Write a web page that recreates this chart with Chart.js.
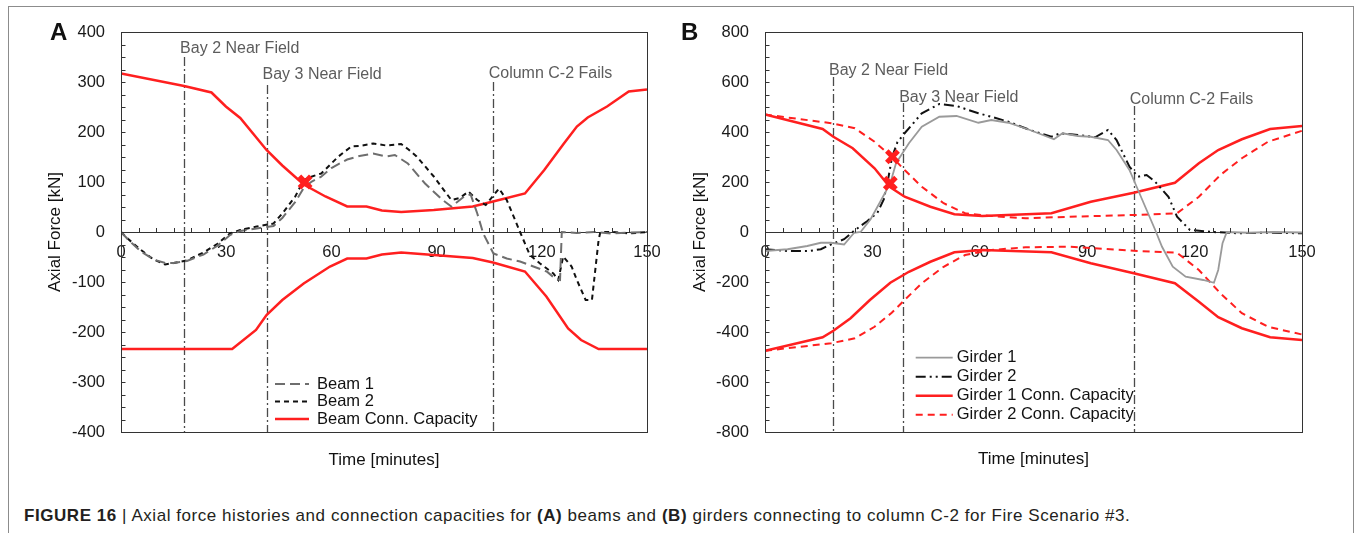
<!DOCTYPE html>
<html><head><meta charset="utf-8">
<script src="https://cdn.jsdelivr.net/npm/chart.js@4/dist/chart.umd.min.js"></script>
<style>
html,body{margin:0;padding:0;background:#fff;}
body{width:1356px;height:533px;overflow:hidden;position:relative;font-family:"Liberation Sans",Arial,sans-serif;}
#frame{position:absolute;left:8px;top:6px;width:1344px;height:600px;border:1px solid #8c8c8c;}
canvas{position:absolute;top:0;}
#cA{left:0px;} #cB{left:678px;}
.tag{position:absolute;font-weight:bold;font-size:24px;line-height:24px;color:#111;}
#caption{position:absolute;left:24px;top:506px;font-size:17px;line-height:19px;letter-spacing:0.55px;color:#231f20;white-space:nowrap;}
</style></head>
<body>
<div id="frame"></div>
<canvas id="cA" width="678" height="480"></canvas>
<canvas id="cB" width="678" height="480"></canvas>
<div class="tag" style="left:50px;top:20px">A</div>
<div class="tag" style="left:681px;top:20px">B</div>
<div id="caption"><b>FIGURE 16</b> | Axial force histories and connection capacities for <b>(A)</b> beams and <b>(B)</b> girders connecting to column C-2 for Fire Scenario #3.</div>
<script>
// ---------- shared ----------
const xTickLabels = [0, 30, 60, 90, 120, 150];
const eventNames = ['Bay 2 Near Field', 'Bay 3 Near Field', 'Column C-2 Fails'];

// ---------- Panel A: beams ----------
const yTickLabelsA = [-400, -300, -200, -100, 0, 100, 200, 300, 400];
const eventTimesA = [18, 41.5, 106];
const beam1Time  = [0, 2, 5.5, 9.3, 12.6, 15, 18.8, 23.5, 27.4, 31.1, 34, 38.7, 43.5, 46, 49.7, 52.1, 54.4, 57, 60, 64.5, 68, 71.9, 75.6, 78.1, 81.8, 86.7, 91.7, 94.2, 97.9, 99.7, 101.6, 103.3, 106.2, 110, 113.8, 117.6, 121.4, 123.8, 125.2, 125.7, 130, 135, 140, 145, 150];
const beam1Force = [0, -15, -38, -55, -62, -62, -58, -45, -28, -6, 2, 7, 12, 28, 60, 88, 101, 110, 128, 145, 152, 157, 151, 154, 137, 97, 64, 51, 71, 75, 37, -3, -43, -53, -59, -69, -79, -93, -96, 0, -2, 0, -3, -1, 0];
const beam2Time  = [0, 1.7, 5.5, 9.3, 12.6, 15, 18.8, 23.5, 27.4, 31.1, 34, 38.7, 43.5, 46, 49.7, 52.1, 54, 57.1, 62, 65.7, 68, 71.9, 75.6, 79.9, 82, 84.3, 89.2, 94.2, 96.6, 99.1, 101.6, 104, 107.8, 110, 113.8, 116.6, 119.5, 123.3, 124.7, 126.1, 128.5, 130, 132.5, 134.3, 136.2, 136.7, 140, 145, 150];
const beam2Force = [0, -12, -35, -55, -65, -62, -57, -41, -24, -3, 4, 11, 17, 37, 71, 104, 110, 117, 151, 171, 172, 177, 173, 176, 165, 151, 111, 64, 68, 81, 64, 54, 87, 64, 0, -46, -63, -83, -96, -49, -69, -96, -136, -136, -16, 0, 0, -3, 0];
const beamCapTimeUpper = [0, 18, 25.8, 29.9, 34, 41.5, 46, 52.1, 58.3, 64.5, 70, 74.4, 79.9, 89.2, 100.3, 106.1, 115.2, 120.7, 126.3, 130, 133.1, 138.6, 144.8, 150];
const beamCapUpper     = [317, 292, 279, 251, 228, 164, 133, 95, 71, 51, 51, 43, 40, 44, 51, 61, 77, 124, 177, 211, 229, 251, 281, 285];
const beamCapTimeLower = [0, 31.7, 38.5, 41.5, 46, 52.1, 59.6, 64.5, 70, 74.4, 79.9, 89.2, 100.3, 106.1, 115.2, 121.3, 127.5, 131.2, 136.2, 150];
const beamCapLower     = [-234, -234, -196, -166, -136, -103, -69, -53, -53, -45, -41, -46, -52, -61, -79, -129, -193, -216, -234, -234];
const beamFailTime  = [52.5];
const beamFailForce = [100];

// ---------- Panel B: girders ----------
const yTickLabelsB = [-800, -600, -400, -200, 0, 200, 400, 600, 800];
const eventTimesB = [19, 38.6, 103];
const girder1Time  = [0, 6.3, 11.8, 15.6, 18.4, 22.1, 24.9, 26.7, 29.5, 32.3, 35, 36.6, 40.2, 43.8, 48.7, 53.5, 59.6, 63.2, 68, 74, 80.7, 83.1, 87.4, 91, 95.8, 98.2, 101.8, 104.2, 106.6, 109, 110.9, 113.9, 117.5, 122.4, 125.4, 126.6, 127.8, 129, 135, 142, 150];
const girder1Force = [-76, -69, -56, -43, -43, -50, -3, 0, 51, 124, 195, 275, 355, 421, 461, 464, 437, 448, 437, 408, 371, 395, 384, 381, 368, 328, 248, 168, 88, 8, -59, -139, -179, -192, -203, -152, -45, 0, -3, 0, -2];
const girder2Time  = [0, 6.3, 12.4, 15.6, 18.4, 22.1, 24.9, 28.6, 31.4, 33.2, 34.5, 35.5, 37, 39, 43.8, 48.7, 53.5, 59.6, 63.2, 68, 74, 80, 82.5, 87.4, 92.2, 95.8, 98.2, 101.8, 104.2, 106.6, 109, 112.7, 115.1, 118.7, 125, 132, 140, 150];
const girder2Force = [-69, -76, -76, -69, -50, -29, 5, 44, 77, 131, 220, 300, 360, 395, 475, 512, 504, 475, 461, 441, 408, 381, 395, 388, 379, 408, 368, 261, 221, 228, 201, 141, 61, 8, 0, -5, -3, -5];
const g1CapTimeUpper = [0, 16.1, 19.1, 24.5, 30.6, 34.8, 39, 46.2, 52.9, 60.7, 80, 91, 103, 114.5, 121.2, 126.6, 133.2, 141.1, 150];
const g1CapUpper     = [470, 412, 381, 335, 255, 181, 141, 101, 71, 64, 75, 121, 157, 197, 275, 328, 371, 412, 424];
const g1CapTimeLower = [0, 16.1, 19.1, 23.9, 29.3, 35, 40.2, 46.2, 52.9, 60.7, 80, 91, 103, 114.5, 121.2, 126.6, 133.2, 141.1, 150];
const g1CapLower     = [-475, -421, -395, -345, -272, -203, -159, -119, -81, -72, -81, -125, -165, -205, -279, -341, -385, -421, -432];
const g2CapTimeUpper = [0, 18.5, 25.1, 30.6, 35.4, 39, 43.8, 49.9, 55.9, 63.2, 72.8, 84.9, 103, 115.1, 121.2, 127.2, 133.2, 140.5, 150];
const g2CapUpper     = [470, 435, 415, 361, 301, 248, 181, 115, 75, 64, 55, 61, 68, 75, 141, 228, 295, 361, 405];
const g2CapTimeLower = [0, 18.5, 25.1, 30.6, 35.4, 39, 43.8, 49.9, 55.9, 63.2, 72.8, 84.9, 103, 115.1, 121.2, 127.2, 133.2, 140.5, 150];
const g2CapLower     = [-475, -445, -425, -379, -323, -272, -205, -139, -92, -72, -61, -59, -75, -83, -152, -245, -325, -379, -410];
const girderFailTime  = [35.0, 35.6];
const girderFailForce = [195, 301];

// ---------- helpers ----------
const FONT = '"Liberation Sans", Arial, Helvetica, sans-serif';
const RED = '#ff1f1f';
const pts = (t, v) => t.map((x, i) => ({x, y: v[i]}));

function lineDs(label, t, v, color, width, dash, inLegend) {
  return {type: 'line', label, data: pts(t, v), borderColor: color, backgroundColor: color,
    borderWidth: width, borderDash: dash, pointRadius: 0, tension: 0, fill: false, inLegend};
}
function markerDs(t, v) {
  return {type: 'scatter', label: 'fail', data: pts(t, v), pointStyle: 'crossRot', pointRadius: 8,
    pointBorderWidth: 5, borderColor: RED, backgroundColor: RED, inLegend: false};
}

const decor = {
  id: 'decor',
  beforeDatasetsDraw(chart, args, o) {
    const {ctx, chartArea: a, scales: {x}} = chart;
    ctx.save();
    ctx.strokeStyle = '#4a4a4a'; ctx.lineWidth = 1.3; ctx.setLineDash([9, 3, 2, 3]);
    o.events.forEach((t, i) => {
      const px = Math.round(x.getPixelForValue(t)) + 0.5;
      ctx.beginPath(); ctx.moveTo(px, o.lineTops[i]); ctx.lineTo(px, a.bottom); ctx.stroke();
    });
    ctx.restore();
  },
  afterDraw(chart, args, o) {
    const {ctx, chartArea: a, scales: {x, y}} = chart;
    ctx.save();
    ctx.strokeStyle = '#333'; ctx.lineWidth = 1; ctx.setLineDash([]);
    ctx.strokeRect(Math.round(a.left) + 0.5, Math.round(a.top) + 0.5, Math.round(a.right - a.left), Math.round(a.bottom - a.top));
    const y0 = Math.round(y.getPixelForValue(0)) + 0.5;
    ctx.beginPath();
    const nx = Math.round((x.max - x.min) / o.xMinor);
    for (let k = 0; k <= nx; k++) {
      const px = Math.round(x.getPixelForValue(x.min + k * o.xMinor)) + 0.5;
      ctx.moveTo(px, y0); ctx.lineTo(px, y0 - 4.5);
    }
    const ny = Math.round((y.max - y.min) / o.yMinor);
    for (let k = 0; k <= ny; k++) {
      const py = Math.round(y.getPixelForValue(y.min + k * o.yMinor)) + 0.5;
      ctx.moveTo(a.left, py); ctx.lineTo(a.left + 4.5, py);
    }
    ctx.stroke();
    // event labels
    ctx.font = '16px ' + FONT; ctx.fillStyle = '#5c5c5c'; ctx.textBaseline = 'middle'; ctx.textAlign = 'left';
    o.events.forEach((t, i) => ctx.fillText(eventNames[i], x.getPixelForValue(t) - 4, o.labelYs[i]));
    // legend
    const L = o.legend;
    ctx.font = '16.5px ' + FONT;
    chart.data.datasets.filter(d => d.inLegend).forEach((d, i) => {
      const yy = L.y + i * L.dy;
      ctx.strokeStyle = d.borderColor; ctx.lineWidth = d.borderWidth; ctx.setLineDash(d.borderDash || []);
      ctx.beginPath(); ctx.moveTo(L.x, yy); ctx.lineTo(L.x + L.len, yy); ctx.stroke();
      ctx.setLineDash([]);
      ctx.fillStyle = '#111'; ctx.fillText(d.label, L.x + L.len + L.gap, yy);
    });
    // x title
    ctx.fillStyle = '#111'; ctx.font = '17px ' + FONT; ctx.textAlign = 'center';
    ctx.fillText('Time [minutes]', (a.left + a.right) / 2, o.xTitleY);
    ctx.restore();
  }
};

function makeChart(id, datasets, yTicks, yMinor, pad, yWidth, decorOpts) {
  const ymin = yTicks[0], ymax = yTicks[yTicks.length - 1];
  return new Chart(document.getElementById(id), {
    data: {datasets},
    options: {
      responsive: false, animation: false, devicePixelRatio: 1,
      layout: {padding: pad},
      plugins: {legend: {display: false}, tooltip: {enabled: false}, decor: decorOpts},
      scales: {
        x: {type: 'linear', min: xTickLabels[0], max: xTickLabels[xTickLabels.length - 1], position: {y: 0},
          afterBuildTicks: s => { s.ticks = xTickLabels.map(v => ({value: v})); },
          ticks: {font: {family: FONT, size: 16.5}, color: '#1a1a1a', padding: 11, maxRotation: 0, autoSkip: false},
          grid: {display: false, drawTicks: false}, border: {display: true, color: '#333', width: 1}},
        y: {type: 'linear', min: ymin, max: ymax, position: 'left',
          afterBuildTicks: s => { s.ticks = yTicks.map(v => ({value: v})); },
          afterFit: s => { s.width = yWidth; },
          ticks: {font: {family: FONT, size: 16.5}, color: '#1a1a1a', padding: 16},
          grid: {display: false, drawTicks: false}, border: {display: true, color: '#333', width: 1},
          title: {display: true, text: 'Axial Force [kN]', font: {family: FONT, size: 17}, color: '#111', padding: {top: 5, bottom: 0}}}
      }
    },
    plugins: [decor]
  });
}

makeChart('cA', [
  markerDs(beamFailTime, beamFailForce),
  lineDs('Beam 1', beam1Time, beam1Force, '#6e6e6e', 2, [10, 5], true),
  lineDs('Beam 2', beam2Time, beam2Force, '#111', 2, [5, 4], true),
  lineDs('Beam Conn. Capacity', beamCapTimeUpper, beamCapUpper, RED, 2.5, [], true),
  lineDs('Beam Conn. Capacity (compression)', beamCapTimeLower, beamCapLower, RED, 2.5, [], false)
], yTickLabelsA, 25, {left: 40, right: 31, top: 32, bottom: 48}, 81, {
  events: eventTimesA, lineTops: [57, 85, 82], labelYs: [49, 75, 74], xMinor: 5, yMinor: 25, xTitleY: 460,
  legend: {x: 275, y: 384, dy: 17.5, len: 34, gap: 8}
});

makeChart('cB', [
  markerDs(girderFailTime, girderFailForce),
  lineDs('Girder 1', girder1Time, girder1Force, '#9a9a9a', 1.8, [], true),
  lineDs('Girder 2', girder2Time, girder2Force, '#111', 2, [10, 4, 2, 4, 2, 4], true),
  lineDs('Girder 1 Conn. Capacity', g1CapTimeUpper, g1CapUpper, RED, 2.5, [], true),
  lineDs('Girder 2 Conn. Capacity', g2CapTimeUpper, g2CapUpper, RED, 2, [7, 5], true),
  lineDs('Girder 1 Conn. Capacity (compression)', g1CapTimeLower, g1CapLower, RED, 2.5, [], false),
  lineDs('Girder 2 Conn. Capacity (compression)', g2CapTimeLower, g2CapLower, RED, 2, [7, 5], false)
], yTickLabelsB, 50, {left: 7, right: 54, top: 32, bottom: 48}, 80, {
  events: eventTimesB, lineTops: [77, 103, 106], labelYs: [70.7, 97.3, 99.3], xMinor: 5, yMinor: 50, xTitleY: 459,
  legend: {x: 237.7, y: 357.7, dy: 19, len: 37, gap: 4}
});
</script>
</body></html>
